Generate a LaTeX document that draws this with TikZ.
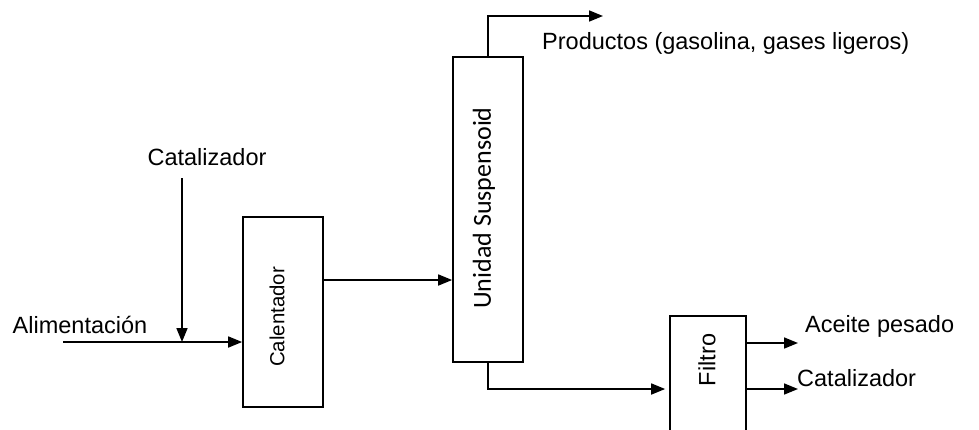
\documentclass[tikz,border=0pt]{standalone}
\usepackage{fontspec}
\setmainfont{Liberation Sans}
\newfontfamily\calibrilike{Carlito}
\usetikzlibrary{arrows.meta}
\begin{document}
\begin{tikzpicture}[x=1pt,y=-1pt,
  flow/.style={line width=1.7pt,-{Triangle[length=14pt,width=11pt]}},
  unit/.style={draw,line width=1.7pt,rectangle,inner sep=0pt},
  lbl/.style={font=\fontsize{23.5}{26}\selectfont,inner sep=0pt}]
\useasboundingbox (0,0) rectangle (979,429);

% process units
\node[unit,minimum width=80pt,minimum height=190pt] (cal) at (283,312) {};
\node[rotate=90,inner sep=0pt,font=\fontsize{20.4}{22}\selectfont] (caltxt) at (277,317) {Calentador};
\node[unit,minimum width=70pt,minimum height=305pt] (uni) at (488,209.5) {};
\node[rotate=90,inner sep=0pt,font=\calibrilike\fontsize{26}{28}\selectfont] (unitxt) at (484,208) {Unidad Suspensoid};
\node[unit,minimum width=76pt,minimum height=140pt] (fil) at (708,386) {};
\node[lbl,rotate=90] (filtxt) at (707,360) {Filtro};

% free ends of the streams
\coordinate (ain) at (63,342);
\coordinate (cin) at (182,178);
\coordinate (calout) at (323,280);
\coordinate (prod) at (603,16);
\coordinate (aceite) at (798,343);
\coordinate (catout) at (798,389);
\coordinate (bottom) at (485,389);

% streams
\draw[flow] (ain) -- (ain -| cal.west);
\draw[flow] (cin) -- (cin |- ain);
\draw[flow] (calout) -- (calout -| uni.west);
\draw[flow] (uni.north) |- (prod);
\draw[flow,shorten >=4pt] (uni.south) |- (bottom -| fil.west);
\draw[flow] (aceite -| fil.east) -- (aceite);
\draw[flow] (catout -| fil.east) -- (catout);

% stream labels
\node[lbl] (lcat) at (207,157) {Catalizador};
\node[lbl] (lali) at (80,325) {Alimentación};
\node[lbl,anchor=west] (lprod) at (542,43) {Productos (gasolina, gases ligeros)};
\node[lbl,anchor=west] (lace) at (805,326) {Aceite pesado};
\node[lbl,anchor=west] (lcat2) at (797,378) {Catalizador};
\end{tikzpicture}
\end{document}
